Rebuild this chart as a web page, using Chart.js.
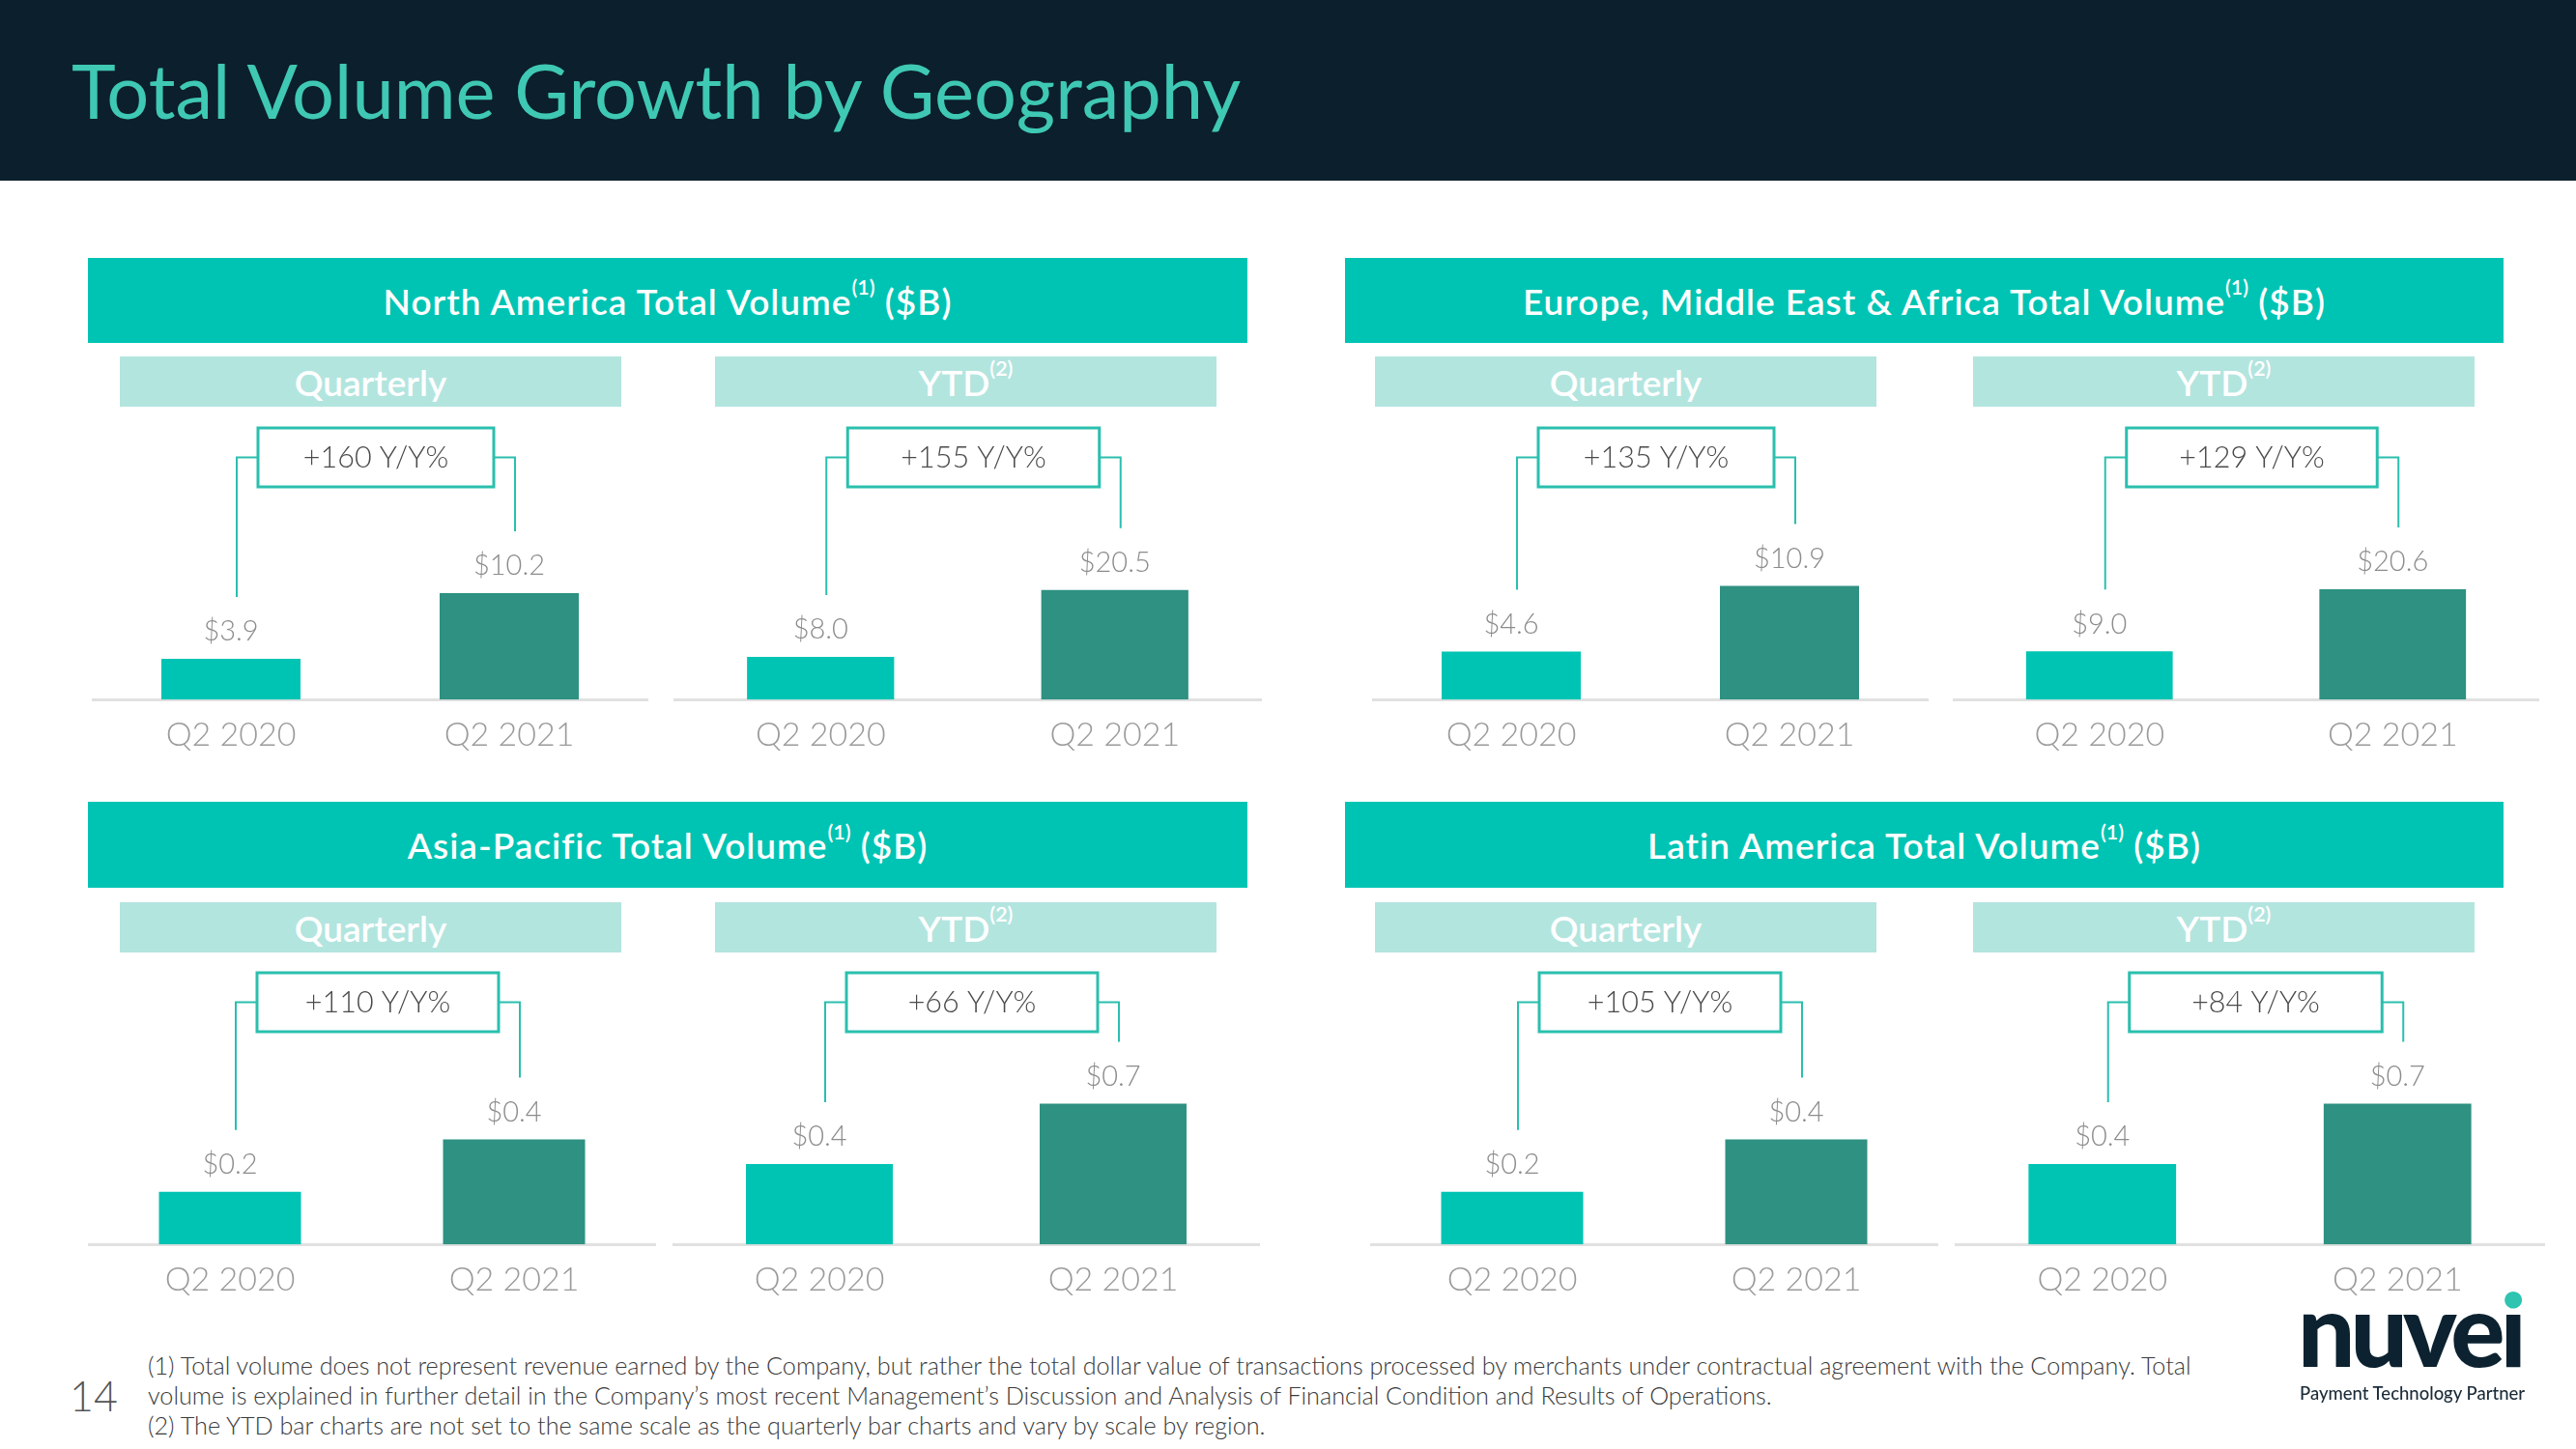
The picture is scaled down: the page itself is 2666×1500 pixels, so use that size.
<!DOCTYPE html>
<html>
<head>
<meta charset="utf-8">
<script src="https://cdn.jsdelivr.net/npm/chart.js@4.4.1/dist/chart.umd.min.js"></script>
<style>
body{margin:0;width:2666px;height:1500px;background:#fff;position:relative;overflow:hidden;font-family:Lato,sans-serif}
.topbar{position:absolute;left:0;top:0;width:2666px;height:187px;background:#0b1f2c}
.title{position:absolute;left:74px;top:47px;font-size:77.6px;line-height:92px;color:#3fc8b3;white-space:nowrap}
.hdr{position:absolute;background:#00c4b3;color:#fff;font-weight:600;font-size:37px;letter-spacing:1px;display:flex;align-items:center;justify-content:center;white-space:nowrap}
.sub{position:absolute;width:519px;height:52px;background:#b3e5df;color:#fff;font-weight:600;font-size:37px;display:flex;align-items:center;justify-content:center}
sup{font-size:58%;vertical-align:0;position:relative;top:-0.65em;letter-spacing:0}
canvas{position:absolute}
.foot{position:absolute;left:153px;top:1398px;font-size:25.2px;line-height:31px;color:#3a3a3a;font-weight:300;white-space:nowrap}
.page{position:absolute;left:72px;top:1419px;font-size:43px;line-height:52px;color:#555;font-weight:300}
.logo{position:absolute;left:2378px;top:1311px;font-size:105px;line-height:126px;font-weight:900;color:#0c2230;letter-spacing:-5px}
.logo .dot{background:linear-gradient(to bottom,#2ec4b0 0,#2ec4b0 37%,#0c2230 37%,#0c2230 100%);-webkit-background-clip:text;background-clip:text;color:transparent}
.tag{position:absolute;left:2380px;top:1430px;font-size:18.5px;line-height:24px;font-weight:500;color:#1b2b38;white-space:nowrap}
</style>
</head>
<body>
<div class="topbar"><div class="title">Total Volume Growth by Geography</div></div>

<script>
// data
const categories = ['Q2 2020', 'Q2 2021'];
const regions = ['North America', 'Europe, Middle East & Africa', 'Asia-Pacific', 'Latin America'];
const quarterlyValues = [[3.9, 10.2], [4.6, 10.9], [0.2, 0.4], [0.2, 0.4]];
const ytdValues = [[8.0, 20.5], [9.0, 20.6], [0.4, 0.7], [0.4, 0.7]];
const quarterlyGrowth = [160, 135, 110, 105];
const ytdGrowth = [155, 129, 66, 84];
// each panel has its own scale (see footnote 2)
const quarterlyAxisMax = [26.3, 26.3, 1.045, 1.045];
const ytdAxisMax = [51.3, 51.3, 1.365, 1.365];

// layout: one entry per region
const panels = [
  {hdr: [91, 267, 1200, 88], subY: 369, subX: [124, 740], q: [95, 576], ytd: [697, 609], cy: 425},
  {hdr: [1392, 267, 1199, 88], subY: 369, subX: [1423, 2042], q: [1420, 576], ytd: [2021, 607], cy: 425},
  {hdr: [91, 830, 1200, 89], subY: 934, subX: [124, 740], q: [91, 588], ytd: [696, 608], cy: 989},
  {hdr: [1392, 830, 1199, 89], subY: 934, subX: [1423, 2042], q: [1418, 588], ytd: [2023, 611], cy: 989}
];

const barColors = ['#00c4b3', '#2e9181'];
const teal = '#2bbfae';

const bracketPlugin = {
  id: 'growthBracket',
  afterDatasetsDraw(chart, args, opts) {
    const {ctx, chartArea} = chart;
    const bars = chart.getDatasetMeta(0).data;
    const vals = chart.data.datasets[0].data;
    ctx.save();
    ctx.textAlign = 'center';
    ctx.textBaseline = 'middle';
    ctx.font = '300 29px Lato';
    ctx.fillStyle = '#8c8c8c';
    bars.forEach((b, i) => ctx.fillText('$' + vals[i].toFixed(1), b.x, b.y - 28));

    const lx = bars[0].x + 6, rx = bars[1].x + 6;
    const top = chartArea.top + 3, h = 61, mid = top + h / 2;
    const bl = lx + 22, br = rx - 22;
    ctx.strokeStyle = teal;
    ctx.lineWidth = 2;
    ctx.beginPath();
    ctx.moveTo(lx, bars[0].y - 64); ctx.lineTo(lx, mid); ctx.lineTo(bl, mid);
    ctx.moveTo(rx, bars[1].y - 64); ctx.lineTo(rx, mid); ctx.lineTo(br, mid);
    ctx.stroke();
    ctx.lineWidth = 3;
    ctx.fillStyle = '#fff';
    ctx.fillRect(bl, top, br - bl, h);
    ctx.strokeRect(bl, top, br - bl, h);
    ctx.font = '300 30.5px Lato';
    ctx.fillStyle = '#4a4a4a';
    ctx.fillText('+' + opts.growth + ' Y/Y%', (bl + br) / 2, mid + 1);
    ctx.restore();
  }
};

function addDiv(cls, x, y, w, h, html) {
  const d = document.createElement('div');
  d.className = cls;
  d.style.left = x + 'px'; d.style.top = y + 'px';
  if (w) d.style.width = w + 'px';
  if (h) d.style.height = h + 'px';
  d.innerHTML = html;
  document.body.appendChild(d);
}

function makeChart(x, y, w, values, growth, yMax) {
  const c = document.createElement('canvas');
  c.width = w; c.height = 372;
  c.style.left = x + 'px'; c.style.top = y + 'px';
  document.body.appendChild(c);
  new Chart(c, {
    type: 'bar',
    data: {
      labels: categories,
      datasets: [{data: values, backgroundColor: barColors, barPercentage: 0.5, categoryPercentage: 1}]
    },
    options: {
      responsive: false,
      animation: false,
      layout: {padding: {top: 15, left: 0, right: 0, bottom: 0}},
      plugins: {legend: {display: false}, tooltip: {enabled: false}, growthBracket: {growth: growth}},
      scales: {
        x: {
          grid: {display: false, drawTicks: false},
          border: {display: true, color: '#e1e1e1', width: 3},
          ticks: {color: '#9b9b9b', font: {family: 'Lato', size: 34, weight: '300'}, padding: 16, maxRotation: 0}
        },
        y: {display: false, min: 0, max: yMax}
      }
    },
    plugins: [bracketPlugin]
  });
}

panels.forEach((p, i) => {
  addDiv('hdr', p.hdr[0], p.hdr[1], p.hdr[2], p.hdr[3], regions[i] + ' Total Volume<sup>(1)</sup>&nbsp;($B)');
  addDiv('sub', p.subX[0], p.subY, 0, 0, 'Quarterly');
  addDiv('sub', p.subX[1], p.subY, 0, 0, 'YTD<sup>(2)</sup>');
  makeChart(p.q[0], p.cy, p.q[1], quarterlyValues[i], quarterlyGrowth[i], quarterlyAxisMax[i]);
  makeChart(p.ytd[0], p.cy, p.ytd[1], ytdValues[i], ytdGrowth[i], ytdAxisMax[i]);
});
</script>

<div class="page">14</div>
<div class="foot">(1) Total volume does not represent revenue earned by the Company, but rather the total dollar value of transactions processed by merchants under contractual agreement with the Company. Total<br>volume is explained in further detail in the Company’s most recent Management’s Discussion and Analysis of Financial Condition and Results of Operations.<br>(2) The YTD bar charts are not set to the same scale as the quarterly bar charts and vary by scale by region.</div>
<div class="logo">nuve<span class="dot">i</span></div>
<div class="tag">Payment Technology Partner</div>
</body>
</html>
